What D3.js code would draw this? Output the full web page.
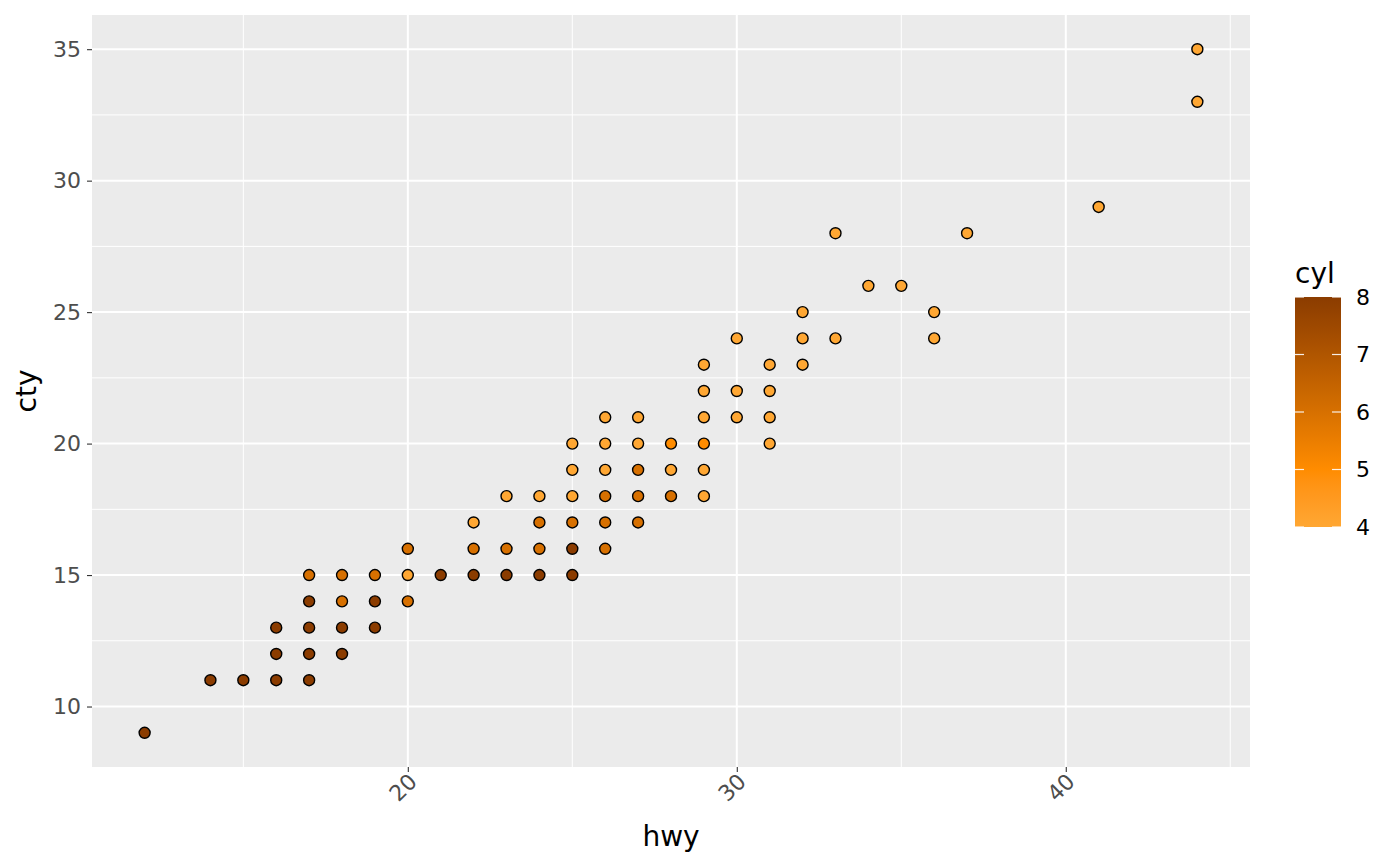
<!DOCTYPE html>
<html><head><meta charset="utf-8">
<script src="https://cdn.jsdelivr.net/npm/d3@7"></script>
<style>body{margin:0;background:#fff;} text{font-family:"DejaVu Sans",sans-serif;}</style>
</head><body>
<svg id="c" width="1400" height="866"></svg>
<script>
// Visible points: hwy, cty and cyl (of the top-drawn point)
const hwy = [12, 14,15,16,17, 16,17,18, 16,17,18,19, 17,18,19,20,
  17,18,19,20,21,22,23,24,25, 20,22,23,24,25,26, 22,24,25,26,27,
  23,24,25,26,27,28,29, 25,26,27,28,29, 25,26,27,28,29,31, 26,27,29,30,31,
  29,30,31, 29,31,32, 30,32,33,36, 32,36, 34,35, 33,37, 41, 44, 44];
const cty = [9, 11,11,11,11, 12,12,12, 13,13,13,13, 14,14,14,14,
  15,15,15,15,15,15,15,15,15, 16,16,16,16,16,16, 17,17,17,17,17,
  18,18,18,18,18,18,18, 19,19,19,19,19, 20,20,20,20,20,20, 21,21,21,21,21,
  22,22,22, 23,23,23, 24,24,24,24, 25,25, 26,26, 28,28, 29, 33, 35];
const cyl = [8, 8,8,8,8, 8,8,8, 8,8,8,8, 8,6,8,6,
  6,6,6,4,8,8,8,8,8, 6,6,6,6,8,6, 4,6,6,6,6,
  4,4,4,6,6,6,4, 4,4,6,4,4, 4,4,4,5,5,4, 4,4,4,4,4,
  4,4,4, 4,4,4, 4,4,4,4, 4,4, 4,4, 4,4, 4, 4, 4];
const xTicks = [20,30,40];
const yTicks = [10,15,20,25,30,35];
const cylTicks = [4,5,6,7,8];

const pts = hwy.map((h,i)=>({hwy:h, cty:cty[i], cyl:cyl[i]}));
const svg = d3.select("#c");
const P = {l:92, r:1250, t:15, b:767};
const x = d3.scaleLinear().domain([10.4,45.6]).range([P.l,P.r]);
const y = d3.scaleLinear().domain([7.7,36.3]).range([P.b,P.t]);
const col = d3.scaleLinear().domain([4,5,8]).range(["#FFA733","#FF8C00","#8B3C00"]).interpolate(d3.interpolateLab);

svg.append("rect").attr("x",P.l).attr("y",P.t).attr("width",P.r-P.l).attr("height",P.b-P.t).attr("fill","#EBEBEB");
const g = svg.append("g");
[15,25,35,45].forEach(v=>g.append("line").attr("x1",x(v)).attr("x2",x(v)).attr("y1",P.t).attr("y2",P.b).attr("stroke","#fff").attr("stroke-width",1));
[12.5,17.5,22.5,27.5,32.5].forEach(v=>g.append("line").attr("y1",y(v)).attr("y2",y(v)).attr("x1",P.l).attr("x2",P.r).attr("stroke","#fff").attr("stroke-width",1));
xTicks.forEach(v=>g.append("line").attr("x1",x(v)).attr("x2",x(v)).attr("y1",P.t).attr("y2",P.b).attr("stroke","#fff").attr("stroke-width",2));
yTicks.forEach(v=>g.append("line").attr("y1",y(v)).attr("y2",y(v)).attr("x1",P.l).attr("x2",P.r).attr("stroke","#fff").attr("stroke-width",2));

svg.append("g").selectAll("circle").data(pts).join("circle")
  .attr("cx",d=>x(d.hwy)).attr("cy",d=>y(d.cty)).attr("r",5.5)
  .attr("fill",d=>col(d.cyl)).attr("stroke","#000").attr("stroke-width",1.4);

// axes
const xa = svg.append("g").attr("transform",`translate(0,${P.b})`)
  .call(d3.axisBottom(x).tickValues(xTicks).tickSize(5));
xa.select(".domain").remove();
xa.selectAll(".tick line").attr("stroke","#333").attr("stroke-width",1.1);
xa.selectAll(".tick text").attr("fill","#4D4D4D").style("font-size","22px")
  .attr("text-anchor","end").attr("dy",null).attr("y",0).attr("x",0)
  .attr("transform","translate(10,16) rotate(-45)");
const ya = svg.append("g").attr("transform",`translate(${P.l},0)`)
  .call(d3.axisLeft(y).tickValues(yTicks).tickSize(5).tickPadding(6));
ya.select(".domain").remove();
ya.selectAll(".tick line").attr("stroke","#333").attr("stroke-width",1.1);
ya.selectAll(".tick text").attr("fill","#4D4D4D").style("font-size","22px");

svg.append("text").attr("x",(P.l+P.r)/2).attr("y",846).attr("text-anchor","middle").style("font-size","28px").text("hwy");
svg.append("text").attr("transform",`translate(36,${(P.t+P.b)/2}) rotate(-90)`).attr("text-anchor","middle").style("font-size","28px").text("cty");

// legend
const L = {x:1295, w:46};
const ly = d3.scaleLinear().domain([4,8]).range([527,297]);
const grad = svg.append("defs").append("linearGradient").attr("id","gr").attr("x1",0).attr("x2",0).attr("y1",1).attr("y2",0);
d3.range(0,21).forEach(i=>{const v=4+i*0.2; grad.append("stop").attr("offset",i/20).attr("stop-color",col(v));});
svg.append("text").attr("x",1295).attr("y",283).style("font-size","28px").text("cyl");
svg.append("rect").attr("x",L.x).attr("y",ly(8)).attr("width",L.w).attr("height",ly(4)-ly(8)).attr("fill","url(#gr)");
cylTicks.forEach(v=>{
  svg.append("line").attr("x1",L.x).attr("x2",L.x+9).attr("y1",ly(v)).attr("y2",ly(v)).attr("stroke","#fff").attr("stroke-width",1.2).attr("opacity",0.9);
  svg.append("line").attr("x1",L.x+L.w-9).attr("x2",L.x+L.w).attr("y1",ly(v)).attr("y2",ly(v)).attr("stroke","#fff").attr("stroke-width",1.2).attr("opacity",0.9);
  svg.append("text").attr("x",1356).attr("y",ly(v)).attr("dy","0.36em").style("font-size","22px").text(v);
});
</script>
</body></html>
